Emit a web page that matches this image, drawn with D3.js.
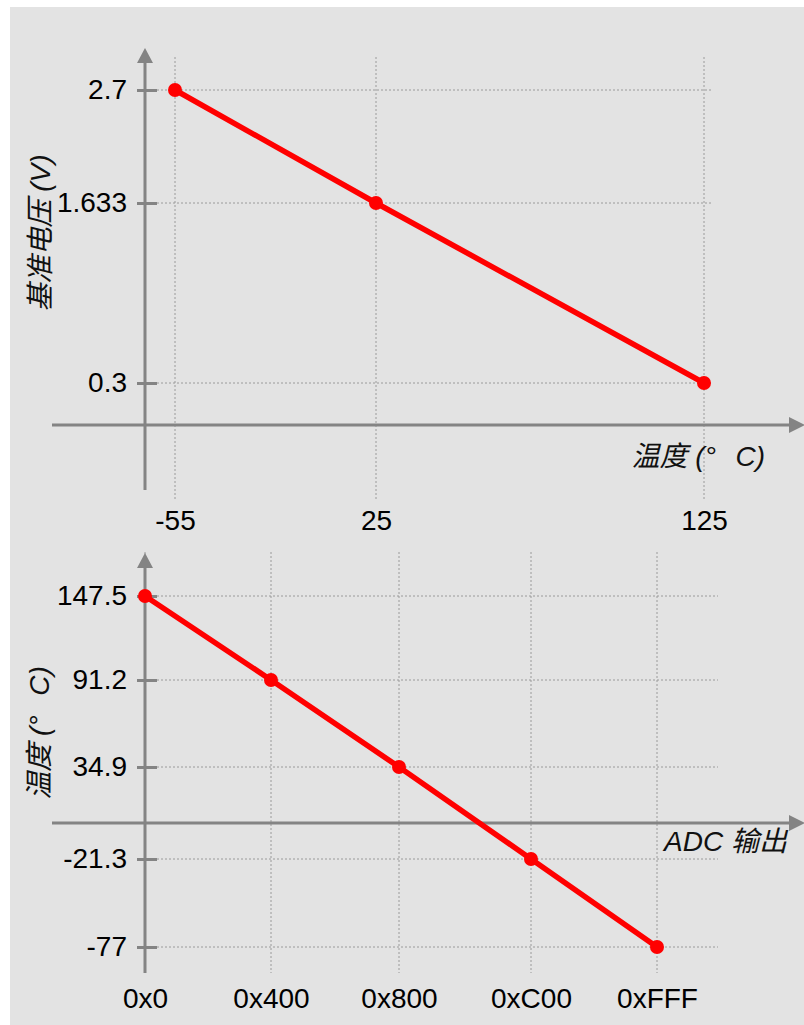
<!DOCTYPE html>
<html>
<head>
<meta charset="utf-8">
<script src="https://cdn.jsdelivr.net/npm/d3@7"></script>
<style>
  body { margin: 0; background: #fff; }
  svg { display: block; }
  text { font-family: "Liberation Sans", Arial, "Noto Sans CJK SC", sans-serif; }
</style>
</head>
<body>
<script>
// top chart: reference voltage vs temperature
var tempC = [-55, 25, 125];
var vref = [2.7, 1.633, 0.3];
var vrefLabels = ["2.7", "1.633", "0.3"];

// bottom chart: temperature vs ADC output
var adcCodes = [0, 1024, 2048, 3072, 4095];
var adcLabels = ["0x0", "0x400", "0x800", "0xC00", "0xFFF"];
var adcTemp = [147.5, 91.2, 34.9, -21.3, -77];

var width = 804, height = 1025;
var axisColor = "#848484", gridColor = "#9a9a9a";

var svg = d3.select("body").append("svg")
	.attr("width", width)
	.attr("height", height);

svg.append("rect")
	.attr("x", 10).attr("y", 7)
	.attr("width", width - 10).attr("height", height - 7)
	.attr("fill", "#e3e3e3");

// the axes are not evenly spaced in the picture, so piecewise scales
var x1 = d3.scaleLinear().domain(tempC).range([175, 376, 704]);
var y1 = d3.scaleLinear().domain(vref).range([90, 203, 383]);
var x2 = d3.scaleLinear().domain(adcCodes).range([145, 271, 399, 531, 657]);
var y2 = d3.scaleLinear().domain(adcTemp).range([596, 680, 767, 859, 947]);

// degree sign sits in a wide gap in the original
var degC = "温度 (°\u2002\u2009C)";

function panel(o) {
	var g = svg.append("g");

	// dotted grid
	g.selectAll(".vgrid").data(o.xs).enter().append("line")
		.attr("x1", function(d) { return o.x(d); })
		.attr("x2", function(d) { return o.x(d); })
		.attr("y1", o.gridTop).attr("y2", o.gridBottom)
		.attr("stroke", gridColor).attr("stroke-dasharray", "2,2");
	g.selectAll(".hgrid").data(o.ys).enter().append("line")
		.attr("x1", o.axisX).attr("x2", o.gridRight)
		.attr("y1", function(d) { return o.y(d); })
		.attr("y2", function(d) { return o.y(d); })
		.attr("stroke", gridColor).attr("stroke-dasharray", "2,2");

	// axes with arrows
	g.append("line")
		.attr("x1", 52).attr("x2", 792)
		.attr("y1", o.axisY).attr("y2", o.axisY)
		.attr("stroke", axisColor).attr("stroke-width", 3);
	g.append("path")
		.attr("d", "M805," + o.axisY + "L789," + (o.axisY - 8) + "L789," + (o.axisY + 8) + "Z")
		.attr("fill", axisColor);
	g.append("line")
		.attr("x1", o.axisX).attr("x2", o.axisX)
		.attr("y1", o.arrowTip + 13).attr("y2", o.axisBottom)
		.attr("stroke", axisColor).attr("stroke-width", 3);
	g.append("path")
		.attr("d", "M" + o.axisX + "," + o.arrowTip + "L" + (o.axisX - 8) + "," + (o.arrowTip + 15) +
			"L" + (o.axisX + 8) + "," + (o.arrowTip + 15) + "Z")
		.attr("fill", axisColor);

	// y ticks and labels
	var ya = g.append("g")
		.attr("transform", "translate(" + o.axisX + ",0)")
		.call(d3.axisLeft(o.y).tickValues(o.ys).tickSize(0).tickPadding(18)
			.tickFormat(function(d, i) { return o.yLabels[i]; }));
	ya.select(".domain").remove();
	ya.selectAll(".tick line")
		.attr("x1", -8).attr("x2", 12)
		.attr("stroke", axisColor).attr("stroke-width", 3);
	ya.selectAll("text").attr("font-size", 28).attr("fill", "#000")
		.style("font-family", "'Liberation Sans', Arial, sans-serif");

	// x labels below the grid
	var xa = g.append("g")
		.attr("transform", "translate(0," + o.gridBottom + ")")
		.call(d3.axisBottom(o.x).tickValues(o.xs).tickSize(0).tickPadding(o.xPad)
			.tickFormat(function(d, i) { return o.xLabels[i]; }));
	xa.select(".domain").remove();
	xa.selectAll(".tick line").remove();
	xa.selectAll("text").attr("font-size", 28).attr("fill", "#000")
		.style("font-family", "'Liberation Sans', Arial, sans-serif");

	// axis titles
	g.append("text")
		.attr("transform", "translate(" + o.yTitle[0] + "," + o.yTitle[1] + ") rotate(-90)")
		.attr("text-anchor", "middle")
		.attr("font-size", 28).attr("font-style", "italic").attr("fill", "#111")
		.style("white-space", "pre")
		.text(o.yTitleText);
	g.append("text")
		.attr("x", o.xTitle[0]).attr("y", o.xTitle[1])
		.attr("text-anchor", "end")
		.attr("font-size", 28).attr("font-style", "italic").attr("fill", "#111")
		.style("white-space", "pre")
		.text(o.xTitleText);

	// data
	var pts = o.xs.map(function(d, i) { return [d, o.ys[i]]; });
	g.append("path")
		.datum(pts)
		.attr("fill", "none")
		.attr("stroke", "#ff0000")
		.attr("stroke-width", 5.5)
		.attr("stroke-linejoin", "round")
		.attr("d", d3.line()
			.x(function(d) { return o.x(d[0]); })
			.y(function(d) { return o.y(d[1]); }));
	g.selectAll(".dot").data(pts).enter().append("circle")
		.attr("cx", function(d) { return o.x(d[0]); })
		.attr("cy", function(d) { return o.y(d[1]); })
		.attr("r", 7)
		.attr("fill", "#ff0000");
}

panel({
	x: x1, y: y1, xs: tempC, ys: vref,
	xLabels: tempC.map(String), yLabels: vrefLabels,
	axisX: 145, axisY: 425, arrowTip: 48, axisBottom: 490,
	gridTop: 57, gridBottom: 500, gridRight: 712, xPad: 10,
	yTitle: [50, 233], yTitleText: "基准电压 (V)",
	xTitle: [765, 466], xTitleText: degC
});

panel({
	x: x2, y: y2, xs: adcCodes, ys: adcTemp,
	xLabels: adcLabels, yLabels: adcTemp.map(String),
	axisX: 145, axisY: 823, arrowTip: 553, axisBottom: 973,
	gridTop: 552, gridBottom: 973, gridRight: 718, xPad: 15,
	yTitle: [49, 733], yTitleText: degC,
	xTitle: [787, 851], xTitleText: "ADC 输出"
});
</script>
</body>
</html>
